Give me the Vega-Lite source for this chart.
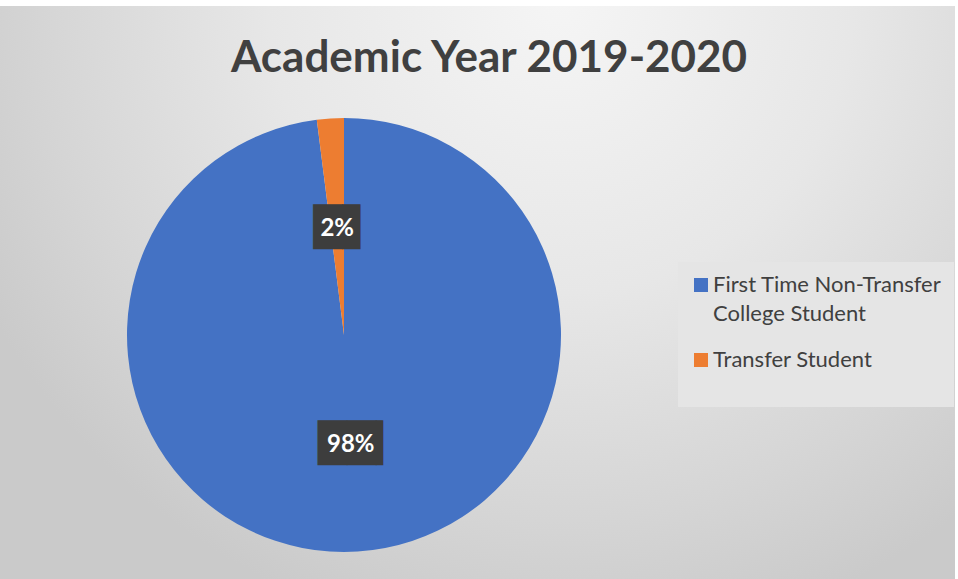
{
  "$schema": "https://vega.github.io/schema/vega-lite/v6.json",
  "width": 1222,
  "height": 658,
  "autosize": {"type": "none"},
  "padding": {"left": -267, "top": 6, "right": 3, "bottom": -85},
  "background": "white",
  "config": {"view": {"stroke": null}},
  "title": {
    "text": "Academic Year 2019-2020",
    "font": "Lato",
    "fontSize": 44,
    "fontWeight": "bold",
    "color": "#404040",
    "anchor": "middle",
    "frame": "group",
    "dx": 145,
    "dy": 44,
    "offset": -66,
    "baseline": "alphabetic"
  },
  "data": {
    "values": [
      {"category": "First Time Non-Transfer College Student", "value": 98, "label": "98%"},
      {"category": "Transfer Student", "value": 2, "label": "2%"}
    ]
  },
  "layer": [
    {
      "data": {"values": [{}]},
      "mark": {
        "type": "rect",
        "fill": {
          "gradient": "radial",
          "x1": 0.677, "y1": 0.226, "r1": 0,
          "x2": 0.677, "y2": 0.226, "r2": 0.532,
          "stops": [
            {"offset": 0, "color": "#f5f5f5"},
            {"offset": 0.45, "color": "#e7e7e7"},
            {"offset": 0.8, "color": "#d5d5d5"},
            {"offset": 1, "color": "#cacaca"}
          ]
        }
      },
      "encoding": {}
    },
    {
      "mark": {"type": "arc", "outerRadius": 217},
      "encoding": {
        "theta": {"field": "value", "type": "quantitative", "stack": true},
        "order": {"field": "value", "sort": "descending"},
        "color": {
          "field": "category",
          "type": "nominal",
          "scale": {
            "domain": ["First Time Non-Transfer College Student", "Transfer Student"],
            "range": ["#4472C4", "#ED7D31"]
          },
          "legend": {
            "orient": "none",
            "legendX": 945,
            "legendY": 256,
            "title": " ",
            "titleOrient": "bottom",
            "titleFontSize": 20,
            "titlePadding": 4,
            "symbolType": "square",
            "symbolSize": 196,
            "symbolStrokeWidth": 0,
            "labelFont": "Lato",
            "labelFontSize": 22,
            "labelColor": "#404040",
            "labelOffset": 1,
            "labelLimit": 400,
            "fillColor": "#e5e5e5",
            "padding": 12,
            "rowPadding": 24,
            "labelExpr": "datum.label == 'First Time Non-Transfer College Student' ? ['First Time Non-Transfer', 'College Student'] : datum.label",
            "encode": {"labels": {"update": {"lineHeight": {"value": 29}}}}
          }
        }
      }
    },
    {
      "mark": {"type": "text", "radius": 108, "font": "DejaVu Sans", "fontSize": 38, "baseline": "middle", "align": "left", "dx": -24, "dy": 2},
      "encoding": {
        "theta": {"field": "value", "type": "quantitative", "stack": true},
        "order": {"field": "value", "sort": "descending"},
        "text": {"condition": {"test": "datum.value < 50", "value": "█▋"}, "value": ""},
        "color": {"value": "#3d3d3d"}
      }
    },
    {
      "mark": {"type": "text", "radius": 108, "font": "DejaVu Sans", "fontSize": 38, "baseline": "middle", "align": "left", "dx": -33, "dy": 2},
      "encoding": {
        "theta": {"field": "value", "type": "quantitative", "stack": true},
        "order": {"field": "value", "sort": "descending"},
        "text": {"condition": {"test": "datum.value >= 50", "value": "██▎"}, "value": ""},
        "color": {"value": "#3d3d3d"}
      }
    },
    {
      "mark": {"type": "text", "radius": 108, "font": "Lato", "fontWeight": "bold", "fontSize": 24, "baseline": "middle", "align": "center", "dy": 2},
      "encoding": {
        "theta": {"field": "value", "type": "quantitative", "stack": true},
        "order": {"field": "value", "sort": "descending"},
        "text": {"field": "label"},
        "color": {"value": "white"}
      }
    }
  ]
}
